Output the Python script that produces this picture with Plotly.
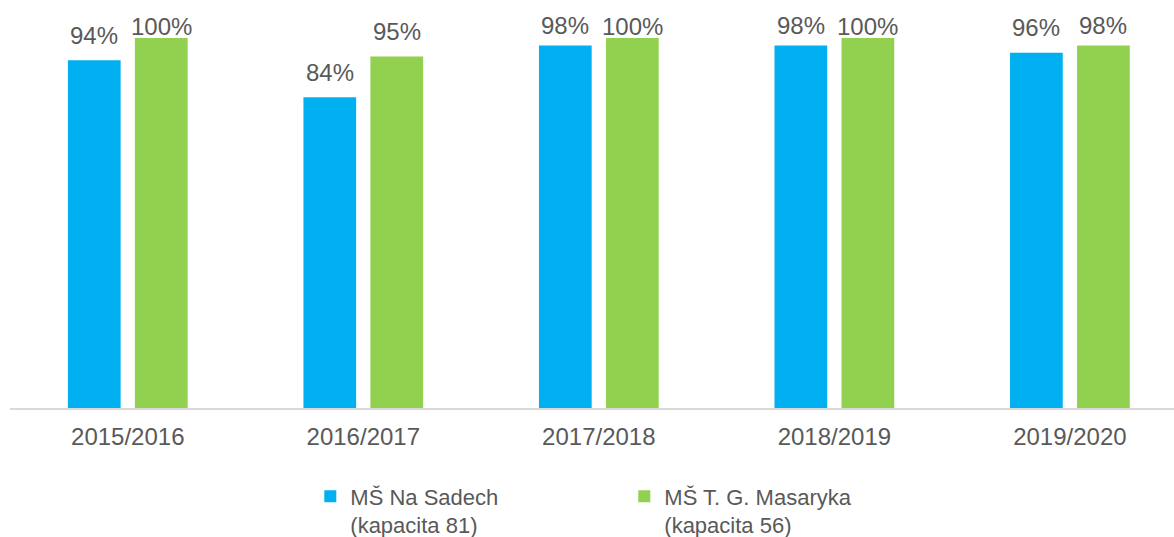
import plotly.graph_objects as go

categories = ["2015/2016", "2016/2017", "2017/2018", "2018/2019", "2019/2020"]
na_sadech = [0.94, 0.84, 0.98, 0.98, 0.96]
tgm = [1.00, 0.95, 1.00, 1.00, 0.98]
series_names = ["MŠ Na Sadech<br>(kapacita 81)", "MŠ T. G. Masaryka<br>(kapacita 56)"]
colors = ["#00B0F0", "#92D050"]

FONT = "Liberation Sans, Arial, sans-serif"
TXT = "#595959"

fig = go.Figure()
for name, vals, col in zip(series_names, [na_sadech, tgm], colors):
    fig.add_trace(go.Bar(x=categories, y=vals, name=name, marker_color=col,
                         marker_line_width=0, hoverinfo="skip"))

# data labels (Excel-style, kept inside the chart area)
plot_h = 370.5
for vals, xs in [(na_sadech, -33.5), (tgm, 33.5)]:
    for c, v in zip(categories, vals):
        shift = min(25, 12 + (1 - v) * plot_h)
        fig.add_annotation(x=c, y=v, xref="x", yref="y", text=f"{round(v*100)}%",
                           showarrow=False, xshift=xs, yshift=shift, yanchor="middle",
                           font=dict(family=FONT, size=24, color=TXT))

fig.update_layout(
    width=1174, height=537,
    margin=dict(l=10, r=0, t=38, b=128.5, autoexpand=False),
    paper_bgcolor="white", plot_bgcolor="white",
    bargap=0.431, bargroupgap=0.213,
    font=dict(family=FONT, color=TXT),
    showlegend=True,
    legend=dict(orientation="h", x=0.258, xanchor="left", y=-0.182, yanchor="top",
                valign="top", entrywidth=269, entrywidthmode="pixels",
                font=dict(family=FONT, size=22, color=TXT), traceorder="normal",
                itemclick=False),
)
fig.update_xaxes(range=[-0.5, 4.442], showline=True, linecolor="#D9D9D9", linewidth=1.5,
                 showgrid=False, ticks="", zeroline=False, automargin=False,
                 tickfont=dict(family=FONT, size=24, color=TXT), ticklabelstandoff=6)
fig.update_yaxes(range=[0, 1], visible=False, showgrid=False, zeroline=False, automargin=False)

fig.write_html("out.html")
